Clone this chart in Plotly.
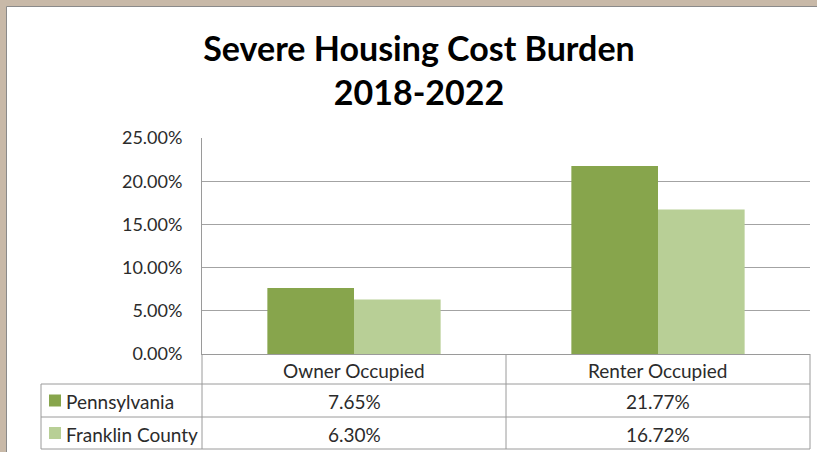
import plotly.graph_objects as go

# ---- data ----
categories = ["Owner Occupied", "Renter Occupied"]
series_names = ["Pennsylvania", "Franklin County"]
pennsylvania = [7.65, 21.77]
franklin_county = [6.30, 16.72]
y_ticks = [0, 5, 10, 15, 20, 25]
title_lines = ["Severe Housing Cost Burden", "2018-2022"]

# ---- styling ----
W, H = 817, 452
C_PA = "#87a54c"
C_FC = "#b8cf96"
FRAME = "#c8b9a8"
GRID = "#a3a3a3"
LINE = "#9a9a9a"
TXT = "#2b2b2b"
FONT = "Lato"

def px(x):
    return x / W

def py(y):
    return 1 - y / H

# plot area in pixels
PL, PR, PT, PB = 202, 810, 138, 354
# table rows (pixels)
ROW1, ROW2, ROW3, ROW4 = 354, 384, 417, 449
TABLE_L = 41

fig = go.Figure()
for name, vals, col in [(series_names[0], pennsylvania, C_PA), (series_names[1], franklin_county, C_FC)]:
    fig.add_trace(go.Bar(x=categories, y=vals, name=name, marker=dict(color=col, line=dict(width=0)),
                         showlegend=False, hoverinfo="skip"))

shapes = []
# brown outer frame strips (top and left), then thin grey border
shapes.append(dict(type="rect", xref="paper", yref="paper", x0=0, x1=1, y0=py(6.5), y1=1,
                   fillcolor=FRAME, line=dict(width=0), layer="below"))
shapes.append(dict(type="rect", xref="paper", yref="paper", x0=0, x1=px(6.5), y0=0, y1=1,
                   fillcolor=FRAME, line=dict(width=0), layer="below"))
shapes.append(dict(type="line", xref="paper", yref="paper", x0=px(6.5), x1=1, y0=py(6.5), y1=py(6.5),
                   line=dict(color="#8a8a8a", width=1), layer="below"))
shapes.append(dict(type="line", xref="paper", yref="paper", x0=px(6.5), x1=px(6.5), y0=0, y1=py(6.5),
                   line=dict(color="#8a8a8a", width=1), layer="below"))

def hline(x0, x1, y):
    shapes.append(dict(type="line", xref="paper", yref="paper", x0=px(x0), x1=px(x1), y0=py(y), y1=py(y),
                       line=dict(color=LINE, width=1)))

def vline(x, y0, y1):
    shapes.append(dict(type="line", xref="paper", yref="paper", x0=px(x), x1=px(x), y0=py(y0), y1=py(y1),
                       line=dict(color=LINE, width=1)))

# data table grid
hline(TABLE_L, PR, ROW2)
hline(TABLE_L, PR, ROW3)
hline(TABLE_L, PR, ROW4)
vline(TABLE_L, ROW2, ROW4)
vline(PL, ROW1, ROW4)
vline((PL + PR) / 2, ROW1, ROW4)
vline(PR, ROW1, ROW4)

# legend keys
for i, col in enumerate([C_PA, C_FC]):
    yc = (ROW2 + ROW3) / 2 if i == 0 else (ROW3 + ROW4) / 2
    shapes.append(dict(type="rect", xref="paper", yref="paper", x0=px(49), x1=px(61), y0=py(yc + 6), y1=py(yc - 6),
                       fillcolor=col, line=dict(width=0)))

annotations = []
# category labels in the table header
for c in categories:
    annotations.append(dict(x=c, xref="x", y=py((ROW1 + ROW2) / 2 + 1), yref="paper", text=c, showarrow=False,
                            font=dict(family=FONT, size=19, color=TXT), xanchor="center", yanchor="middle"))
# series rows
for i, (name, vals) in enumerate([(series_names[0], pennsylvania), (series_names[1], franklin_county)]):
    yc = (ROW2 + ROW3) / 2 if i == 0 else (ROW3 + ROW4) / 2
    annotations.append(dict(x=px(64), xref="paper", y=py(yc + 1), yref="paper", text=name, showarrow=False,
                            font=dict(family=FONT, size=19, color=TXT), xanchor="left", yanchor="middle"))
    for c, v in zip(categories, vals):
        annotations.append(dict(x=c, xref="x", y=py(yc + 1), yref="paper", text=f"{v:.2f}%", showarrow=False,
                                font=dict(family=FONT, size=19, color=TXT), xanchor="center", yanchor="middle"))

fig.update_layout(
    width=W, height=H,
    margin=dict(l=0, r=0, t=0, b=0, pad=0, autoexpand=False),
    paper_bgcolor="white",
    plot_bgcolor="rgba(0,0,0,0)",
    barmode="group", bargap=0.43, bargroupgap=0,
    title=dict(text="<b>" + title_lines[0] + "<br>" + title_lines[1] + "</b>", x=px(419), xanchor="center",
               y=py(61), yanchor="middle", font=dict(family=FONT, size=34, color="#000000"), automargin=False),
    xaxis=dict(domain=[px(PL), px(PR)], showticklabels=False, showgrid=False, zeroline=False, automargin=False,
               showline=True, linecolor=LINE, linewidth=1, ticks=""),
    yaxis=dict(domain=[py(PB), py(PT)], range=[0, 25], tickvals=y_ticks, automargin=False,
               ticktext=[f"{t:.2f}%" for t in y_ticks], showgrid=True, gridcolor=GRID, gridwidth=1,
               zeroline=False, showline=True, linecolor=LINE, linewidth=1, ticks="",
               ticklabelstandoff=15, tickfont=dict(family=FONT, size=18, color=TXT)),
    shapes=shapes,
    annotations=annotations,
    showlegend=False,
)

fig.write_html(
    "out.html",
    config={"displayModeBar": False},
    post_script=(
        "document.documentElement.style.overflow='hidden';"
        "document.body.style.margin='0';"
        "document.body.style.overflow='hidden';"
        "window.scrollTo(0,0);"
    ),
)
